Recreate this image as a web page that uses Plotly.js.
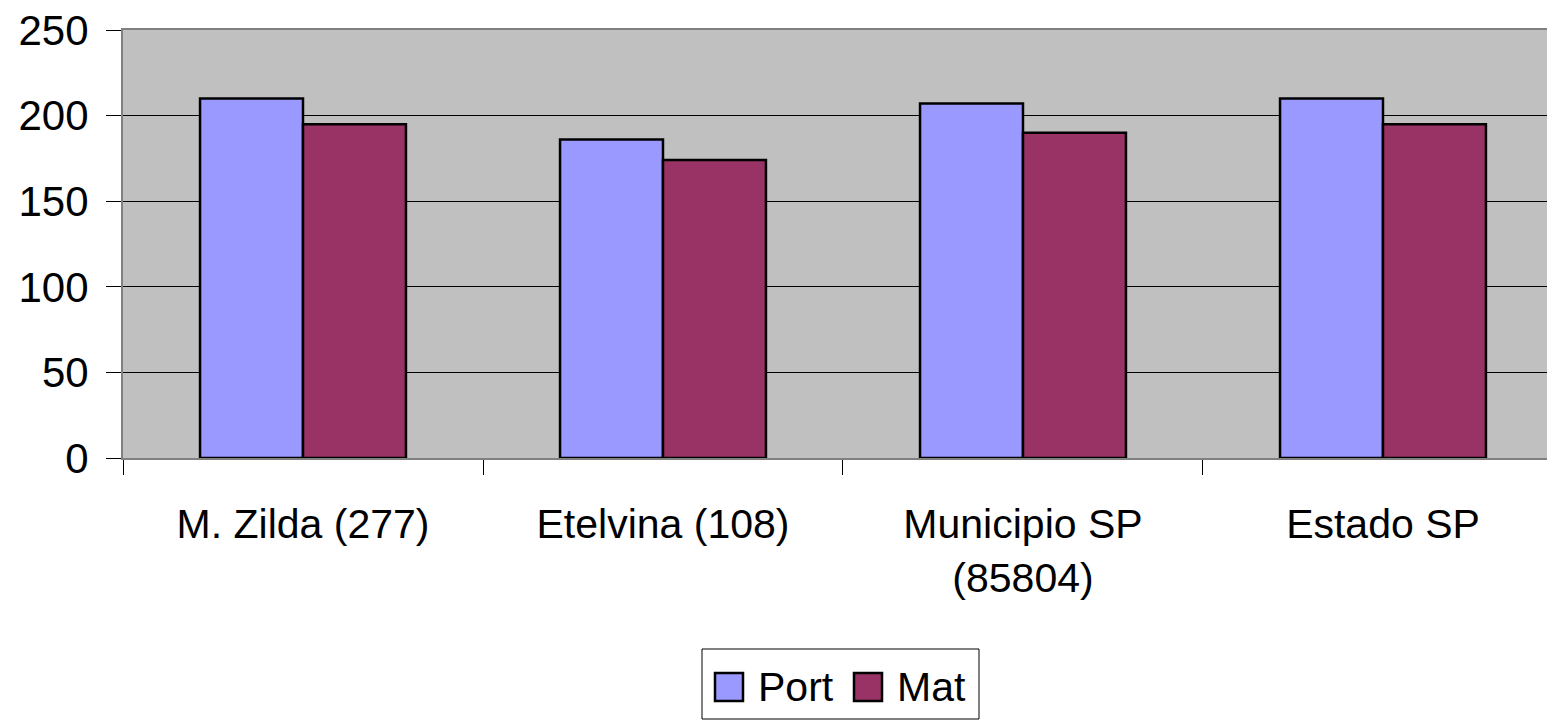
<!DOCTYPE html>
<html>
<head>
<meta charset="utf-8">
<script src="https://cdn.plot.ly/plotly-3.0.1.min.js"></script>
<style>
  html, body { margin: 0; padding: 0; background: #ffffff; }
  #chart { width: 1547px; height: 720px; }
</style>
</head>
<body>
<div id="chart"></div>
<script>
// Categories and values
const categories = ['M. Zilda (277)', 'Etelvina (108)', 'Municipio SP<br>(85804)', 'Estado SP'];
const portValues = [210, 186, 207, 210];
const matValues = [195, 174, 190, 195];
const yTicks = [0, 50, 100, 150, 200, 250];
const seriesNames = ['Port', 'Mat'];
const seriesColors = ['#9999FF', '#993366'];

const fontFamily = 'Liberation Sans, Arial, sans-serif';

// plot area in pixels (used only for placing the hand-drawn legend box)
const plotLeft = 123, plotTop = 30, plotW = 1424, plotH = 428;
const px = (x) => (x - plotLeft) / plotW;
const py = (y) => (plotTop + plotH - y) / plotH;

const traces = [portValues, matValues].map((vals, i) => ({
  x: categories,
  y: vals,
  name: seriesNames[i],
  type: 'bar',
  marker: { color: seriesColors[i], line: { color: '#000000', width: 2.5 } },
  hoverinfo: 'skip'
}));

// legend drawn by hand so the swatches are as large as in the original
const legendShapes = [
  { type: 'rect', xref: 'paper', yref: 'paper', x0: px(702), x1: px(979), y0: py(649), y1: py(719),
    line: { color: '#000000', width: 1 }, fillcolor: '#ffffff', layer: 'above' },
  { type: 'rect', xref: 'paper', yref: 'paper', x0: px(715), x1: px(743), y0: py(673), y1: py(701),
    line: { color: '#000000', width: 2.5 }, fillcolor: seriesColors[0], layer: 'above' },
  { type: 'rect', xref: 'paper', yref: 'paper', x0: px(854), x1: px(882), y0: py(673), y1: py(701),
    line: { color: '#000000', width: 2.5 }, fillcolor: seriesColors[1], layer: 'above' }
];
const legendLabels = [
  { text: seriesNames[0], xref: 'paper', yref: 'paper', x: px(756), y: py(687),
    xanchor: 'left', yanchor: 'middle', showarrow: false, font: { family: fontFamily, size: 41, color: '#000' } },
  { text: seriesNames[1], xref: 'paper', yref: 'paper', x: px(895), y: py(687),
    xanchor: 'left', yanchor: 'middle', showarrow: false, font: { family: fontFamily, size: 41, color: '#000' } }
];

const layout = {
  width: 1547,
  height: 720,
  barmode: 'group',
  bargap: 0.428,
  bargroupgap: 0,
  paper_bgcolor: '#ffffff',
  plot_bgcolor: '#C0C0C0',
  font: { family: fontFamily, size: 41, color: '#000000' },
  margin: { l: 123, r: 0, t: 30, b: 262 },
  showlegend: false,
  shapes: legendShapes,
  annotations: legendLabels,
  xaxis: {
    type: 'category',
    range: [-0.5, 3.4556],
    showgrid: false,
    showline: true,
    mirror: true,
    linecolor: '#808080',
    linewidth: 2,
    ticks: 'outside',
    tickson: 'boundaries',
    ticklen: 15,
    tickcolor: '#000000',
    ticklabelstandoff: 29,
    tickfont: { family: fontFamily, size: 41, color: '#000' },
    fixedrange: true
  },
  yaxis: {
    range: [0, 250],
    tickvals: yTicks,
    showgrid: true,
    gridcolor: '#000000',
    gridwidth: 1,
    zeroline: true,
    zerolinecolor: '#000000',
    zerolinewidth: 1,
    showline: true,
    linecolor: '#808080',
    linewidth: 2,
    ticks: 'outside',
    ticklen: 15,
    tickcolor: '#000000',
    ticklabelstandoff: 9,
    tickfont: { family: fontFamily, size: 42, color: '#000' },
    fixedrange: true
  }
};

Plotly.newPlot('chart', traces, layout, { displayModeBar: false, staticPlot: true });
</script>
</body>
</html>
